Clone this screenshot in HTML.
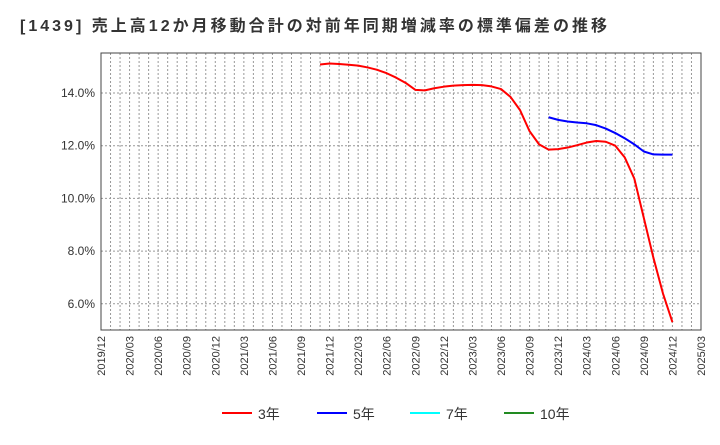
<!DOCTYPE html>
<html><head><meta charset="utf-8"><style>
body{margin:0;background:#fff;font-family:"Liberation Sans","Noto Sans CJK JP",sans-serif;}
</style></head><body>
<svg id="c" width="720" height="440" xmlns="http://www.w3.org/2000/svg">
<text x="20" y="31" font-size="16" font-weight="bold" fill="#333" textLength="587" lengthAdjust="spacing" font-family="Liberation Sans, Noto Sans CJK JP, sans-serif">[1439]  売上高12か月移動合計の対前年同期増減率の標準偏差の推移</text>
<g id="grid"></g><g id="axes"></g><g id="series"></g><g id="legend"></g>
</svg>
<script>
const yTicks=[6,8,10,12,14];
const xLabels=["2019/12","2020/03","2020/06","2020/09","2020/12","2021/03","2021/06","2021/09","2021/12","2022/03","2022/06","2022/09","2022/12","2023/03","2023/06","2023/09","2023/12","2024/03","2024/06","2024/09","2024/12","2025/03"];
const red3=[15.08,15.12,15.10,15.07,15.04,14.97,14.88,14.75,14.58,14.38,14.12,14.10,14.18,14.24,14.28,14.30,14.31,14.30,14.25,14.15,13.85,13.35,12.55,12.05,11.85,11.87,11.93,12.02,12.12,12.18,12.15,12.00,11.55,10.75,9.25,7.75,6.40,5.30];
const red3Start=23;
const blue5=[13.08,12.98,12.92,12.88,12.85,12.78,12.65,12.48,12.28,12.05,11.78,11.67,11.66,11.66];
const blue5Start=47;
const L=101,R=701,T=53,B=330,months=63;
const X=m=>L+m*(R-L)/months;
const Y=v=>93+(14-v)*26.35;
const NS="http://www.w3.org/2000/svg";
function mk(tag,attrs,parent){const e=document.createElementNS(NS,tag);for(const k in attrs)e.setAttribute(k,attrs[k]);document.getElementById(parent).appendChild(e);return e;}
for(let m=1;m<months;m++){const l=mk('line',{x1:X(m),x2:X(m),y1:T,y2:B,stroke:'#999','stroke-dasharray':'2,2','stroke-width':1},'grid');

}
yTicks.forEach(v=>{const l=mk('line',{x1:L,x2:R,y1:Y(v),y2:Y(v),stroke:'#999','stroke-dasharray':'2,2'},'grid');


const t=mk('text',{x:L-6,y:Y(v)+4,'text-anchor':'end','font-size':12,fill:'#333'},'axes');t.textContent=v.toFixed(1)+'%';

});
const fr=mk('rect',{x:L,y:T,width:R-L,height:B-T,fill:'none',stroke:'#444'},'axes');


xLabels.forEach((s,i)=>{const x=X(i*3);const t=mk('text',{x:0,y:0,transform:`translate(${x+4},${B+6}) rotate(-90)`,'text-anchor':'end','font-size':11,fill:'#333'},'axes');t.textContent=s;

});
function line(arr,start,color,name){const p=mk('polyline',{points:arr.map((v,i)=>X(start+i)+','+Y(v)).join(' '),fill:'none',stroke:color,'stroke-width':2,'stroke-linejoin':'round'},'series');

}
line(red3,red3Start,'#f00','series-3yr');
line(blue5,blue5Start,'#00f','series-5yr');
const leg=[["3年","#f00",222],["5年","#00f",317],["7年","#0ff",410],["10年","#228b22",504]];
leg.forEach(([n,c,x])=>{const l=mk('line',{x1:x,x2:x+30,y1:413,y2:413,stroke:c,'stroke-width':2},'legend');


const t=mk('text',{x:x+36,y:419,'font-size':14,fill:'#333'},'legend');t.textContent=n;

});
</script>
</body></html>
